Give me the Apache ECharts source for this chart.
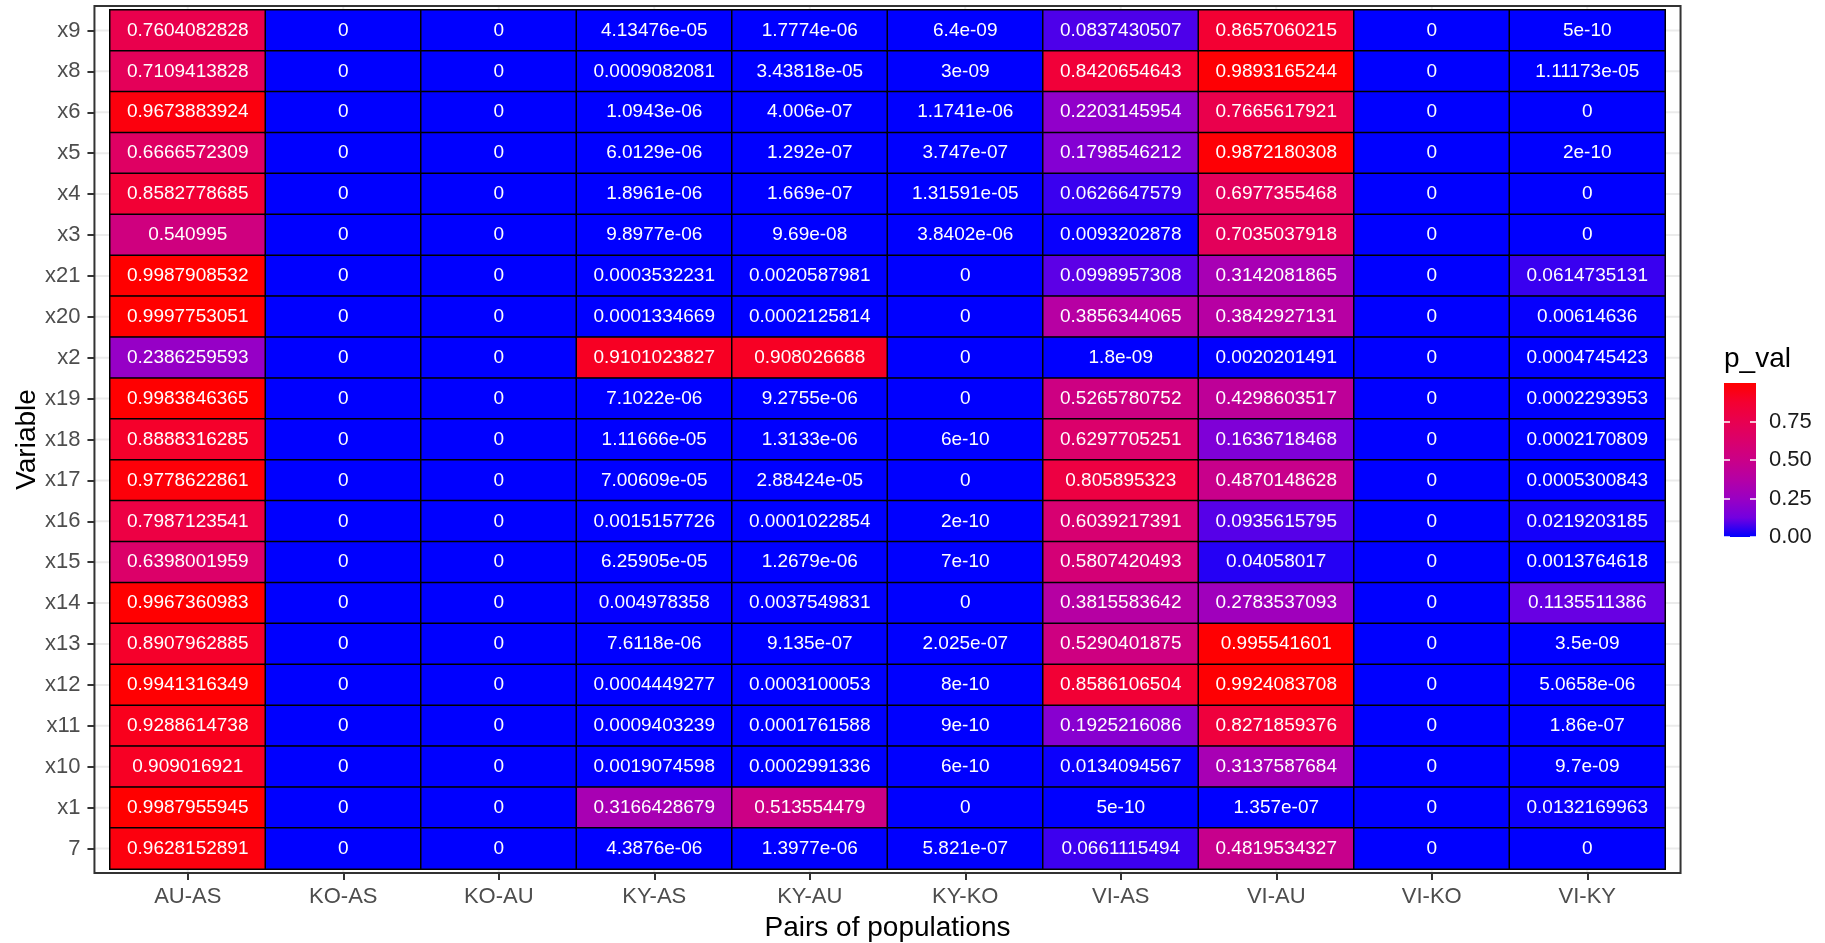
<!DOCTYPE html>
<html>
<head>
<meta charset="utf-8">
<title>p-values by pair of populations</title>
<script src="https://cdn.jsdelivr.net/npm/echarts@6/dist/echarts.min.js"></script>
<style>
  html, body { margin: 0; padding: 0; background: #ffffff; }
  #chart { width: 1825px; height: 943px; }
</style>
</head>
<body>
<div id="chart"></div>
<script>
// Rows, listed top to bottom
const variables = ['x9', 'x8', 'x6', 'x5', 'x4', 'x3', 'x21', 'x20', 'x2', 'x19', 'x18',
  'x17', 'x16', 'x15', 'x14', 'x13', 'x12', 'x11', 'x10', 'x1', '7'];

// Columns
const pairs = ['AU-AS', 'KO-AS', 'KO-AU', 'KY-AS', 'KY-AU', 'KY-KO', 'VI-AS', 'VI-AU', 'VI-KO', 'VI-KY'];

// p-values per pair, in the same order as `variables`
const pAUAS = [0.7604082828, 0.7109413828, 0.9673883924, 0.6666572309, 0.8582778685, 0.540995,
  0.9987908532, 0.9997753051, 0.2386259593, 0.9983846365, 0.8888316285, 0.9778622861,
  0.7987123541, 0.6398001959, 0.9967360983, 0.8907962885, 0.9941316349, 0.9288614738,
  0.909016921, 0.9987955945, 0.9628152891];
const pKOAS = [0, 0, 0, 0, 0, 0, 0, 0, 0, 0, 0, 0, 0, 0, 0, 0, 0, 0, 0, 0, 0];
const pKOAU = [0, 0, 0, 0, 0, 0, 0, 0, 0, 0, 0, 0, 0, 0, 0, 0, 0, 0, 0, 0, 0];
const pKYAS = [4.13476e-05, 0.0009082081, 1.0943e-06, 6.0129e-06, 1.8961e-06, 9.8977e-06,
  0.0003532231, 0.0001334669, 0.9101023827, 7.1022e-06, 1.11666e-05, 7.00609e-05,
  0.0015157726, 6.25905e-05, 0.004978358, 7.6118e-06, 0.0004449277, 0.0009403239,
  0.0019074598, 0.3166428679, 4.3876e-06];
const pKYAU = [1.7774e-06, 3.43818e-05, 4.006e-07, 1.292e-07, 1.669e-07, 9.69e-08,
  0.0020587981, 0.0002125814, 0.908026688, 9.2755e-06, 1.3133e-06, 2.88424e-05,
  0.0001022854, 1.2679e-06, 0.0037549831, 9.135e-07, 0.0003100053, 0.0001761588,
  0.0002991336, 0.513554479, 1.3977e-06];
const pKYKO = [6.4e-09, 3e-09, 1.1741e-06, 3.747e-07, 1.31591e-05, 3.8402e-06,
  0, 0, 0, 0, 6e-10, 0, 2e-10, 7e-10, 0, 2.025e-07, 8e-10, 9e-10, 6e-10, 0, 5.821e-07];
const pVIAS = [0.0837430507, 0.8420654643, 0.2203145954, 0.1798546212, 0.0626647579, 0.0093202878,
  0.0998957308, 0.3856344065, 1.8e-09, 0.5265780752, 0.6297705251, 0.805895323,
  0.6039217391, 0.5807420493, 0.3815583642, 0.5290401875, 0.8586106504, 0.1925216086,
  0.0134094567, 5e-10, 0.0661115494];
const pVIAU = [0.8657060215, 0.9893165244, 0.7665617921, 0.9872180308, 0.6977355468, 0.7035037918,
  0.3142081865, 0.3842927131, 0.0020201491, 0.4298603517, 0.1636718468, 0.4870148628,
  0.0935615795, 0.04058017, 0.2783537093, 0.995541601, 0.9924083708, 0.8271859376,
  0.3137587684, 1.357e-07, 0.4819534327];
const pVIKO = [0, 0, 0, 0, 0, 0, 0, 0, 0, 0, 0, 0, 0, 0, 0, 0, 0, 0, 0, 0, 0];
const pVIKY = [5e-10, 1.11173e-05, 0, 2e-10, 0, 0, 0.0614735131, 0.00614636, 0.0004745423,
  0.0002293953, 0.0002170809, 0.0005300843, 0.0219203185, 0.0013764618, 0.1135511386,
  3.5e-09, 5.0658e-06, 1.86e-07, 9.7e-09, 0.0132169963, 0];

// Colour-bar tick values
const legendTicks = [0, 0.25, 0.5, 0.75];

const columns = [pAUAS, pKOAS, pKOAU, pKYAS, pKYAU, pKYKO, pVIAS, pVIAU, pVIKO, pVIKY];

// Blue -> red ramp, sampled along a Lab interpolation
const ramp = ['#0000FF', '#7300E0', '#9A00C3', '#B500A5', '#CA0088',
  '#DA006C', '#E80050', '#F40031', '#FF0000'];

const FONT = '"Liberation Sans", Arial, sans-serif';

// Print a number the way R does: fixed unless scientific notation is shorter
function fmtR(v) {
  if (v === 0) return '0';
  const fixed = v.toFixed(10).replace(/\.?0+$/, '');
  const sci = v.toExponential().replace(/e([+-])(\d)$/, (m, s, d) => 'e' + s + '0' + d);
  return sci.length < fixed.length ? sci : fixed;
}

const cells = [];
columns.forEach((col, i) => col.forEach((v, j) => cells.push([i, j, v])));
const pMax = Math.max(...cells.map(c => c[2]));

// Plot geometry: the tile area; the panel extends 0.1 band beyond it (0.6 units of expansion)
const GRID = { left: 110, top: 10, width: 1555, height: 859, outerBoundsMode: 'none' };
const xPad = 0.1 * GRID.width / pairs.length;
const yPad = 0.1 * GRID.height / variables.length;

const chart = echarts.init(document.getElementById('chart'), null, { renderer: 'canvas' });

const option = {
  animation: false,
  backgroundColor: '#ffffff',
  textStyle: { fontFamily: FONT },
  grid: [
    GRID,
    { left: 1724, top: 383, width: 32, height: 154, outerBoundsMode: 'none' }
  ],
  xAxis: [
    {
      type: 'category',
      gridIndex: 0,
      data: pairs,
      position: 'bottom',
      offset: yPad,
      axisLine: { show: false },
      axisTick: { show: true, alignWithLabel: true, length: 7, lineStyle: { color: '#333333', width: 2 } },
      axisLabel: { fontSize: 22, color: '#4D4D4D', margin: 13, fontFamily: FONT },
      splitLine: { show: false },
      name: 'Pairs of populations',
      nameLocation: 'middle',
      nameGap: 41,
      nameMoveOverlap: false,
      nameTextStyle: { fontSize: 28, color: '#000000', fontFamily: FONT }
    },
    {
      type: 'category',
      gridIndex: 1,
      data: ['p_val'],
      show: false
    }
  ],
  yAxis: [
    {
      type: 'category',
      gridIndex: 0,
      data: variables,
      inverse: true,
      position: 'left',
      offset: xPad,
      axisLine: { show: false },
      axisTick: { show: true, alignWithLabel: true, length: 7, lineStyle: { color: '#333333', width: 2 } },
      axisLabel: { fontSize: 22, color: '#4D4D4D', margin: 14, fontFamily: FONT },
      splitLine: { show: false },
      name: 'Variable',
      nameLocation: 'middle',
      nameGap: 53,
      nameMoveOverlap: false,
      nameTextStyle: { fontSize: 28, color: '#000000', fontFamily: FONT }
    },
    {
      type: 'value',
      gridIndex: 1,
      min: 0,
      max: pMax,
      position: 'right',
      z: 10,
      axisLine: { show: false },
      splitLine: { show: false },
      axisTick: { show: true, inside: true, length: 6, customValues: legendTicks,
        lineStyle: { color: '#ffffff', width: 1.5 } },
      axisLabel: { show: true, customValues: legendTicks, fontSize: 22, color: '#1A1A1A',
        margin: 13, fontFamily: FONT, formatter: v => v.toFixed(2) }
    },
    {
      type: 'value',
      gridIndex: 1,
      min: 0,
      max: pMax,
      position: 'left',
      z: 10,
      axisLine: { show: false },
      splitLine: { show: false },
      axisLabel: { show: false },
      axisTick: { show: true, inside: true, length: 6, customValues: legendTicks,
        lineStyle: { color: '#ffffff', width: 1.5 } },
      name: 'p_val',
      nameLocation: 'end',
      nameGap: 10,
      nameMoveOverlap: false,
      nameTextStyle: { fontSize: 28, color: '#000000', align: 'left', fontFamily: FONT }
    }
  ],
  visualMap: {
    type: 'continuous',
    show: false,
    seriesIndex: 1,
    dimension: 2,
    min: 0,
    max: pMax,
    inRange: { color: ramp }
  },
  series: [
    {
      // panel: light grid lines at category centres and the dark frame
      type: 'custom',
      xAxisIndex: 0,
      yAxisIndex: 0,
      z: 1,
      silent: true,
      data: [[0, 0]],
      renderItem: function (params, api) {
        const band = api.size([1, 1]);
        const first = api.coord([0, 0]);
        const last = api.coord([pairs.length - 1, variables.length - 1]);
        const x0 = first[0] - 0.6 * band[0];
        const x1 = last[0] + 0.6 * band[0];
        const y0 = Math.min(first[1], last[1]) - 0.6 * band[1];
        const y1 = Math.max(first[1], last[1]) + 0.6 * band[1];
        const children = [];
        const gridStyle = { stroke: '#EBEBEB', lineWidth: 2 };
        variables.forEach((v, j) => {
          const y = api.coord([0, j])[1];
          children.push({ type: 'line', shape: { x1: x0, y1: y, x2: x1, y2: y }, style: gridStyle });
        });
        pairs.forEach((p, i) => {
          const x = api.coord([i, 0])[0];
          children.push({ type: 'line', shape: { x1: x, y1: y0, x2: x, y2: y1 }, style: gridStyle });
        });
        children.push({
          type: 'rect',
          shape: { x: x0, y: y0, width: x1 - x0, height: y1 - y0 },
          style: { fill: 'none', stroke: '#333333', lineWidth: 2 }
        });
        return { type: 'group', children: children };
      }
    },
    {
      type: 'heatmap',
      xAxisIndex: 0,
      yAxisIndex: 0,
      data: cells,
      z: 2,
      itemStyle: { borderColor: '#000000', borderWidth: 1.5 },
      label: {
        show: true,
        color: '#ffffff',
        fontSize: 19,
        fontFamily: FONT,
        formatter: p => fmtR(p.value[2])
      },
      emphasis: { disabled: true }
    },
    {
      // colour bar
      type: 'bar',
      xAxisIndex: 1,
      yAxisIndex: 1,
      data: [pMax],
      barWidth: '100%',
      silent: true,
      z: 2,
      itemStyle: {
        color: new echarts.graphic.LinearGradient(0, 1, 0, 0,
          ramp.map((c, k) => ({ offset: k / (ramp.length - 1), color: c })))
      }
    }
  ]
};

chart.setOption(option);
</script>
</body>
</html>
